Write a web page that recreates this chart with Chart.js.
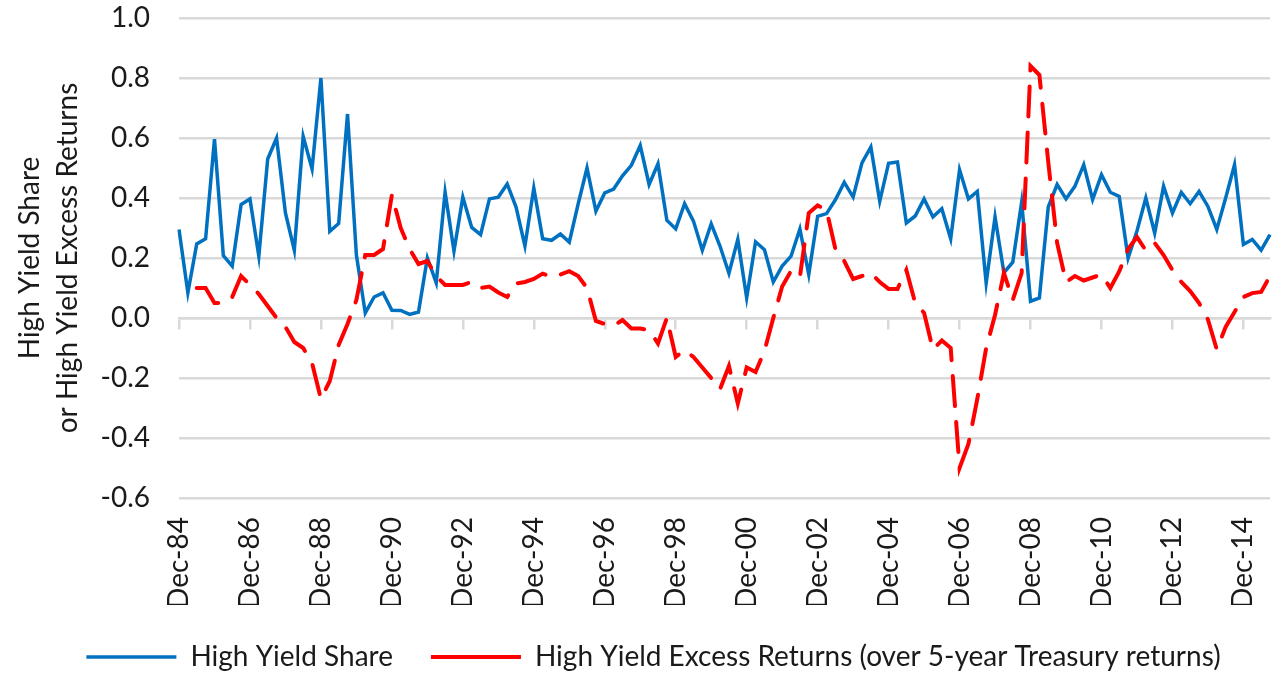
<!DOCTYPE html>
<html>
<head>
<meta charset="utf-8">
<script src="https://cdn.jsdelivr.net/npm/chart.js@4.4.1/dist/chart.umd.min.js"></script>
<style>
  html, body { margin: 0; padding: 0; background: #fff; overflow: hidden; }
  #wrap { width: 1277px; height: 674px; position: relative; }
</style>
</head>
<body>
<div id="wrap"><canvas id="hyChart"></canvas></div>
<script>
// quarterly data, first observation Dec-84
const quarterMonths = ['Dec', 'Mar', 'Jun', 'Sep'];
const numQuarters = 124;
const quarterLabels = [];
for (let i = 0; i < numQuarters; i++) {
    const yr = (1984 + Math.floor((i + 3) / 4)) % 100;
    quarterLabels.push(quarterMonths[i % 4] + '-' + String(yr).padStart(2, '0'));
}

// High Yield Share (blue)
const highYieldShare = [
    0.295, 0.084, 0.247, 0.264, 0.596, 0.208, 0.173, 0.378, 0.397, 0.206,
    0.530, 0.600, 0.350, 0.226, 0.605, 0.497, 0.800, 0.289, 0.315, 0.680,
    0.210, 0.017, 0.070, 0.084, 0.026, 0.025, 0.012, 0.020, 0.200, 0.117,
    0.419, 0.223, 0.403, 0.302, 0.278, 0.397, 0.403, 0.447, 0.370, 0.240,
    0.433, 0.264, 0.259, 0.280, 0.253, 0.380, 0.500, 0.356, 0.417, 0.430,
    0.474, 0.509, 0.575, 0.445, 0.514, 0.326, 0.297, 0.381, 0.323, 0.226,
    0.314, 0.239, 0.149, 0.262, 0.067, 0.254, 0.228, 0.120, 0.173, 0.206,
    0.297, 0.145, 0.339, 0.348, 0.394, 0.452, 0.403, 0.517, 0.570, 0.389,
    0.516, 0.520, 0.317, 0.340, 0.397, 0.337, 0.364, 0.264, 0.494, 0.397,
    0.422, 0.117, 0.337, 0.151, 0.186, 0.386, 0.056, 0.067, 0.370, 0.445,
    0.397, 0.439, 0.511, 0.395, 0.478, 0.419, 0.405, 0.200, 0.290, 0.400,
    0.283, 0.439, 0.350, 0.419, 0.381, 0.422, 0.372, 0.295, 0.400, 0.511,
    0.245, 0.262, 0.226, 0.278
];

// High Yield Excess Returns over 5-year Treasuries (red, dashed)
const excessReturns = [
    null, null, 0.100, 0.100, 0.050, 0.050, 0.070, 0.140, 0.110, 0.080,
    0.040, 0.000, -0.030, -0.080, -0.100, -0.150, -0.270, -0.210, -0.090, -0.020,
    0.060, 0.210, 0.210, 0.230, 0.410, 0.300, 0.230, 0.180, 0.190, 0.140,
    0.110, 0.110, 0.110, 0.120, 0.100, 0.105, 0.085, 0.070, 0.115, 0.120,
    0.130, 0.148, 0.137, 0.145, 0.156, 0.140, 0.100, -0.010, -0.020, -0.025,
    -0.007, -0.035, -0.035, -0.040, -0.085, 0.000, -0.130, -0.107, -0.130, -0.165,
    -0.200, -0.237, -0.160, -0.285, -0.165, -0.180, -0.110, 0.000, 0.105, 0.157,
    0.137, 0.350, 0.375, 0.360, 0.230, 0.190, 0.130, 0.140, 0.150, 0.120,
    0.097, 0.097, 0.160, 0.050, 0.017, -0.105, -0.075, -0.100, -0.500, -0.420,
    -0.270, -0.100, 0.010, 0.150, 0.060, 0.150, 0.840, 0.810, 0.520, 0.250,
    0.120, 0.140, 0.125, 0.135, 0.145, 0.100, 0.155, 0.230, 0.270, 0.225,
    0.250, 0.210, 0.160, 0.120, 0.090, 0.050, -0.005, -0.105, -0.030, 0.020,
    0.070, 0.083, 0.087, 0.140
];

const yMin = -0.6;
const yMax = 1.0;
const yStep = 0.2;
const labelEvery = 8; // one label every two years

const fontFamily = 'Lato, "Open Sans", sans-serif';
const fontSize = 28;
const textColor = '#1a1a1a';
const gridColor = '#d9d9d9';
const clear = 'rgba(0,0,0,0)';

const data = {
    labels: quarterLabels,
    datasets: [
        {
            label: 'High Yield Share',
            data: highYieldShare,
            borderColor: '#0070C0',
            backgroundColor: '#0070C0',
            borderWidth: 3.5,
            pointRadius: 0,
            tension: 0,
            order: 1
        },
        {
            label: 'High Yield Excess Returns (over 5-year Treasury returns)',
            data: excessReturns,
            borderColor: '#FF0000',
            backgroundColor: '#FF0000',
            borderWidth: 4,
            borderDash: [30, 16],
            borderCapStyle: 'round',
            pointRadius: 0,
            tension: 0,
            order: 0 // drawn on top of the blue line
        }
    ]
};

const config = {
    type: 'line',
    data: data,
    options: {
        responsive: true,
        maintainAspectRatio: false,
        animation: false,
        layout: {
            // left padding nudges the (full width) legend to the right
            padding: { left: 30, right: 0, top: 18, bottom: -7 }
        },
        plugins: {
            tooltip: { enabled: false },
            legend: {
                position: 'bottom',
                align: 'center',
                labels: {
                    usePointStyle: true,
                    pointStyle: 'line',
                    pointStyleWidth: 90,
                    padding: 38,
                    color: textColor,
                    font: { family: fontFamily, size: fontSize },
                    sort: (a, b) => a.datasetIndex - b.datasetIndex
                }
            }
        },
        scales: {
            x: {
                type: 'category',
                offset: false,
                border: { display: false },
                grid: {
                    drawOnChartArea: false,
                    drawTicks: true,
                    tickLength: 19,
                    tickColor: clear
                },
                ticks: {
                    autoSkip: false,
                    minRotation: 90,
                    maxRotation: 90,
                    padding: 0,
                    color: textColor,
                    font: { family: fontFamily, size: fontSize },
                    callback: function (value, index) {
                        return index % labelEvery === 0 ? this.getLabelForValue(value) : null;
                    }
                },
                afterFit: (scale) => { scale.height = 107; }
            },
            // axis line at zero with the small tick marks
            x0: {
                type: 'category',
                position: { y: 0 },
                offset: false,
                border: { display: true, color: gridColor, width: 2.5 },
                grid: {
                    drawOnChartArea: false,
                    drawTicks: true,
                    tickLength: 10,
                    lineWidth: 2.5,
                    tickColor: (ctx) => ctx.index % labelEvery === 0 ? gridColor : clear
                },
                ticks: { display: false, autoSkip: false }
            },
            y: {
                min: yMin,
                max: yMax,
                border: { display: false },
                grid: {
                    color: gridColor,
                    lineWidth: 2.5,
                    drawTicks: true,
                    tickLength: 29,
                    tickColor: clear
                },
                ticks: {
                    stepSize: yStep,
                    padding: 0,
                    color: textColor,
                    font: { family: fontFamily, size: fontSize },
                    callback: (v) => v.toFixed(1)
                },
                title: {
                    display: true,
                    text: ['High Yield Share', 'or High Yield Excess Returns'],
                    color: textColor,
                    font: { family: fontFamily, size: fontSize, lineHeight: '38px' },
                    padding: { top: -19, bottom: 10 }
                },
                afterFit: (scale) => { scale.width = 149; }
            }
        }
    }
};

const hyChart = new Chart(document.getElementById('hyChart'), config);
</script>
</body>
</html>
